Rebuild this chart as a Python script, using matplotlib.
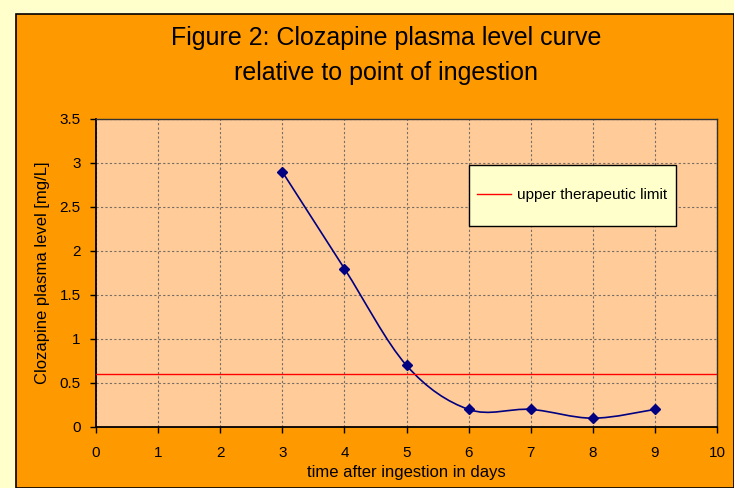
import matplotlib.pyplot as plt
from matplotlib.path import Path
from matplotlib.patches import PathPatch, Rectangle

# Datos
dias = [3, 4, 5, 6, 7, 8, 9]
nivel = [2.9, 1.8, 0.7, 0.2, 0.2, 0.1, 0.2]
limite_superior = 0.6
xticks = list(range(0, 11))
yticks = [0, 0.5, 1, 1.5, 2, 2.5, 3, 3.5]

plt.rcParams['font.family'] = ['Liberation Sans', 'DejaVu Sans']

fig = plt.figure(figsize=(7.34, 4.88), dpi=100, facecolor='#FFFFCC')
W, H = 734, 488

# Fondo naranja con borde
fig.patches.append(Rectangle((16 / W, 0), 1 - 16 / W, 1 - 14 / H, transform=fig.transFigure,
                             facecolor='#FF9900', edgecolor='black', linewidth=1.2, zorder=-5))

ax = fig.add_axes([96 / W, 1 - 427 / H, (717 - 96) / W, (427 - 119) / H])
ax.set_zorder(2)
ax.set_facecolor('#FFCC99')

# Curva suavizada (estilo Excel, Bezier Catmull-Rom)
pts = list(zip(dias, nivel))
verts = [pts[0]]
codes = [Path.MOVETO]
for i in range(len(pts) - 1):
    p0 = pts[i - 1] if i > 0 else pts[i]
    p1 = pts[i]
    p2 = pts[i + 1]
    p3 = pts[i + 2] if i + 2 < len(pts) else pts[i + 1]
    c1 = (p1[0] + (p2[0] - p0[0]) / 6, p1[1] + (p2[1] - p0[1]) / 6)
    c2 = (p2[0] - (p3[0] - p1[0]) / 6, p2[1] - (p3[1] - p1[1]) / 6)
    verts += [c1, c2, p2]
    codes += [Path.CURVE4] * 3
ax.add_patch(PathPatch(Path(verts, codes), facecolor='none', edgecolor='#000080', linewidth=1.2, zorder=3))
ax.plot(dias, nivel, linestyle='none', marker='D', markersize=5.5, color='#000080', zorder=4)

ax.axhline(limite_superior, color='red', linewidth=1.0, zorder=3, label='upper therapeutic limit')

ax.set_xlim(0, 10)
ax.set_ylim(0, 3.5)
ax.set_xticks(xticks)
ax.set_yticks(yticks)
ax.set_xticklabels([str(t) for t in xticks])
ax.set_yticklabels([('%g' % t) for t in yticks])
ax.tick_params(direction='out', length=4, width=1, labelsize=11)
ax.tick_params(axis='x', pad=10)
ax.tick_params(axis='y', pad=7)
ax.grid(True, color='#555555', linestyle=(0, (2, 2)), linewidth=0.8, alpha=0.8)
ax.set_axisbelow(True)
for s in ['left', 'bottom']:
    ax.spines[s].set_linewidth(1.3)
for s in ['top', 'right']:
    ax.spines[s].set_linewidth(1.0)
    ax.spines[s].set_color('#333333')

ax.set_xlabel('time after ingestion in days', fontsize=12, labelpad=3)
ax.set_ylabel('Clozapine plasma level [mg/L]', fontsize=12, labelpad=7)

# Recuadro de la leyenda
ax.add_patch(Rectangle((0.600, 0.653), 0.334, 0.198, transform=ax.transAxes,
                       facecolor='#FFFFCC', edgecolor='black', linewidth=1.0, zorder=5))
leg = ax.legend(loc='center', bbox_to_anchor=(0.767, 0.752), frameon=False,
                fontsize=11, handlelength=2.2, borderpad=0.3, handletextpad=0.4)
leg.set_zorder(6)

fig.text(386 / W, 1 - 38 / H, 'Figure 2: Clozapine plasma level curve', ha='center', va='center', fontsize=18)
fig.text(386 / W, 1 - 73 / H, 'relative to point of ingestion', ha='center', va='center', fontsize=18)

fig.savefig('out.png', dpi=100, facecolor=fig.get_facecolor())
